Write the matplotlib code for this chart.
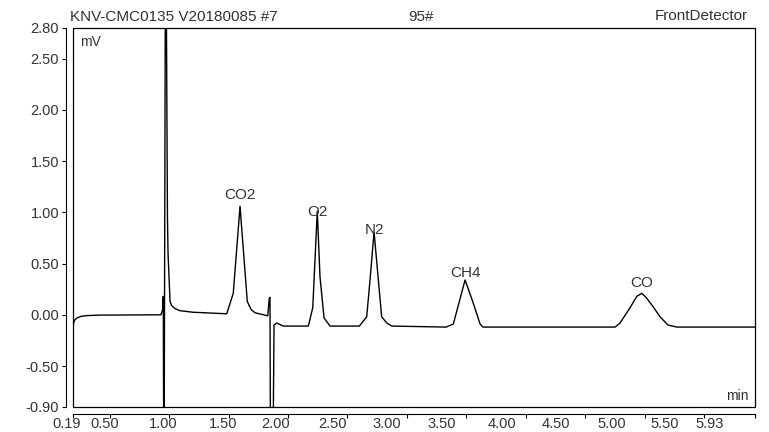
import matplotlib
matplotlib.use('Agg')
import matplotlib.pyplot as plt
from matplotlib.patches import Rectangle

plt.rcParams['font.family'] = ['Liberation Sans', 'DejaVu Sans']

# cromatograma: tiempo (min) y senal (mV)
t = [0.190, 0.195, 0.205, 0.225, 0.260, 0.300, 0.420, 0.930, 0.945, 0.950,
     0.953, 0.958, 0.967, 0.976, 0.985, 0.990, 1.007, 1.020, 1.050, 1.091,
     1.200, 1.484, 1.539, 1.596, 1.657, 1.690, 1.722, 1.829, 1.842, 1.848,
     1.851, 1.876, 1.882, 1.905, 1.960, 2.171, 2.208, 2.246, 2.269, 2.303,
     2.353, 2.600, 2.662, 2.690, 2.724, 2.760, 2.788, 2.831, 2.873, 3.330,
     3.391, 3.490, 3.560, 3.616, 3.641, 4.752, 4.794, 4.879, 4.935, 4.977,
     5.013, 5.072, 5.131, 5.198, 5.274, 5.930]
mv = [-0.15, -0.08, -0.05, -0.03, -0.015, -0.008, -0.003, 0.00, 0.05, 0.18,
      -1.00, -1.00, 3.00, 3.00, 0.96, 0.60, 0.13, 0.09, 0.06, 0.04,
      0.025, 0.01, 0.21, 1.06, 0.13, 0.05, 0.02, -0.01, 0.16, 0.17,
      -1.00, -1.00, -0.10, -0.08, -0.11, -0.11, 0.07, 1.01, 0.37, -0.03,
      -0.11, -0.11, -0.02, 0.34, 0.81, 0.34, -0.02, -0.08, -0.11, -0.12,
      -0.09, 0.34, 0.11, -0.09, -0.12, -0.12, -0.08, 0.07, 0.18, 0.21,
      0.17, 0.08, -0.02, -0.10, -0.12, -0.12]

peak_names = ['CO2', 'O2', 'N2', 'CH4', 'CO']
peak_t = [1.596, 2.246, 2.724, 3.490, 4.977]
peak_lbl_y = [1.17, 1.00, 0.83, 0.41, 0.31]

x_ticks = [0.19, 0.50, 1.00, 1.50, 2.00, 2.50, 3.00, 3.50, 4.00, 4.50, 5.00, 5.50, 5.93]
x_lbl_pos = [0.139, 0.459, 0.948, 1.453, 1.899, 2.370, 2.833, 3.296, 3.801, 4.256, 4.727, 5.173, 5.552]
y_ticks = [2.80, 2.50, 2.00, 1.50, 1.00, 0.50, 0.00, -0.50, -0.90]

txt = '#333333'
fs = 10.5

fig = plt.figure(figsize=(7.69, 4.32), dpi=100)
ax = fig.add_axes([0.0949, 0.0579, 0.8869, 0.8773])
ax.plot(t, mv, color='black', lw=1.0)
ax.set_xlim(0.19, 5.93)
ax.set_ylim(-0.90, 2.80)

# ejes desplazados y marco
ax.spines['left'].set_position(('outward', 5))
ax.spines['bottom'].set_position(('outward', 5))
for s in ['top', 'right']:
    ax.spines[s].set_visible(False)
for s in ['left', 'bottom']:
    ax.spines[s].set_linewidth(0.8)
ax.add_patch(Rectangle((0, 0), 1, 1, transform=ax.transAxes, fill=False,
                       lw=0.9, ec='black', clip_on=False))

ax.set_yticks(y_ticks, labels=['%.2f' % v for v in y_ticks])
ax.set_xticks(x_ticks, labels=[''] * len(x_ticks))
ax.tick_params(axis='both', length=3, width=0.8, labelsize=fs, labelcolor=txt, pad=2)
for xp, v in zip(x_lbl_pos, x_ticks):
    ax.text(xp, -0.044, '%.2f' % v, transform=ax.get_xaxis_transform(),
            ha='center', va='center', fontsize=fs, color=txt)

for name, pt, py in zip(peak_names, peak_t, peak_lbl_y):
    ax.text(pt, py, name, ha='center', va='center', fontsize=11, color=txt)

ax.text(0.010, 0.963, 'mV', transform=ax.transAxes, ha='left', va='center', fontsize=10, color=txt)
ax.text(0.990, 0.030, 'min', transform=ax.transAxes, ha='right', va='center', fontsize=10, color=txt)

fig.text(70 / 769, 1 - 17 / 432, 'KNV-CMC0135 V20180085 #7', ha='left', va='center', fontsize=11, color=txt)
fig.text(421 / 769, 1 - 17 / 432, '95#', ha='center', va='center', fontsize=11, color=txt)
fig.text(748 / 769, 1 - 16 / 432, 'FrontDetector', ha='right', va='center', fontsize=11, color=txt)

fig.savefig('out.png', dpi=100)
